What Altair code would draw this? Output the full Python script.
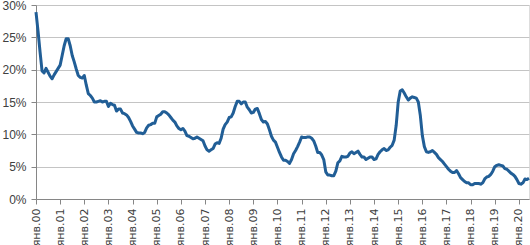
import altair as alt
import pandas as pd

# Annual CPI inflation, % (monthly, Jan 2000 - Jun 2020)
y2000 = [28.9, 26.0, 22.8, 19.8, 19.5, 20.2, 19.6, 19.0, 18.6, 19.2, 19.7, 20.2]
y2001 = [20.7, 22.2, 23.7, 24.8, 24.8, 23.7, 22.2, 21.2, 20.1, 19.1, 18.8, 18.7]
y2002 = [19.1, 17.6, 16.3, 16.0, 15.6, 15.0, 15.0, 15.1, 15.2, 15.0, 15.1, 15.1]
y2003 = [14.3, 14.8, 14.6, 14.5, 13.6, 13.9, 13.9, 13.3, 13.2, 13.0, 12.6, 12.0]
y2004 = [11.3, 10.8, 10.3, 10.2, 10.2, 10.1, 10.3, 11.0, 11.4, 11.5, 11.7, 11.7]
y2005 = [12.7, 12.9, 13.1, 13.5, 13.5, 13.3, 13.0, 12.6, 12.2, 11.9, 11.3, 10.9]
y2006 = [10.7, 10.9, 10.5, 9.8, 9.7, 9.5, 9.3, 9.4, 9.6, 9.4, 9.2, 9.0]
y2007 = [8.2, 7.6, 7.4, 7.6, 7.8, 8.5, 8.7, 8.6, 9.4, 10.8, 11.5, 11.9]
y2008 = [12.6, 12.7, 13.3, 14.3, 15.1, 15.1, 14.7, 15.0, 15.0, 14.2, 13.8, 13.3]
y2009 = [13.4, 13.9, 14.0, 13.2, 12.3, 11.9, 12.0, 11.6, 10.7, 9.7, 9.1, 8.8]
y2010 = [8.0, 7.2, 6.5, 6.0, 6.0, 5.8, 5.5, 6.1, 7.0, 7.5, 8.1, 8.8]
y2011 = [9.6, 9.5, 9.5, 9.6, 9.6, 9.4, 9.0, 8.2, 7.2, 7.2, 6.8, 6.1]
y2012 = [4.2, 3.7, 3.7, 3.6, 3.6, 4.3, 5.6, 5.9, 6.6, 6.5, 6.5, 6.6]
y2013 = [7.1, 7.3, 7.0, 7.2, 7.4, 6.9, 6.5, 6.5, 6.1, 6.3, 6.5, 6.5]
y2014 = [6.1, 6.2, 6.9, 7.3, 7.6, 7.8, 7.5, 7.6, 8.0, 8.3, 9.1, 11.4]
y2015 = [15.0, 16.7, 16.9, 16.4, 15.8, 15.3, 15.6, 15.8, 15.7, 15.6, 15.0, 12.9]
y2016 = [9.8, 8.1, 7.3, 7.2, 7.3, 7.5, 7.2, 6.9, 6.4, 6.1, 5.8, 5.4]
y2017 = [5.0, 4.6, 4.3, 4.1, 4.1, 4.4, 3.9, 3.3, 3.0, 2.7, 2.5, 2.5]
y2018 = [2.2, 2.2, 2.4, 2.4, 2.4, 2.3, 2.5, 3.1, 3.4, 3.5, 3.8, 4.3]
y2019 = [5.0, 5.2, 5.3, 5.2, 5.1, 4.7, 4.6, 4.3, 4.0, 3.8, 3.5, 3.0]
y2020 = [2.4, 2.3, 2.5, 3.1, 3.0, 3.2]

years = [y2000, y2001, y2002, y2003, y2004, y2005, y2006, y2007, y2008, y2009,
         y2010, y2011, y2012, y2013, y2014, y2015, y2016, y2017, y2018, y2019, y2020]

x_ticks = list(range(0, 241, 12))   # every January
y_ticks = [0, 5, 10, 15, 20, 25, 30]

values = [v for yr in years for v in yr]
df = pd.DataFrame({"m": list(range(len(values))), "v": values})

chart = (
    alt.Chart(df)
    .mark_line(color="#215e96", strokeWidth=3, strokeJoin="round", interpolate="linear")
    .encode(
        x=alt.X(
            "m:Q",
            scale=alt.Scale(domain=[0, len(values) - 1], nice=False, zero=False),
            axis=alt.Axis(
                values=x_ticks,
                labelExpr="'янв.' + (datum.value < 120 ? '0' : '') + floor(datum.value / 12)",
                labelAngle=270,
                labelAlign="right",
                labelBaseline="middle",
                labelFlush=False,
                labelOverlap=False,
                labelPadding=4,
                labelFont="DejaVu Sans",
                labelFontSize=11,
                labelColor="#404040",
                grid=False,
                tickSize=5,
                tickColor="#868686",
                domainColor="#868686",
                title=None,
            ),
        ),
        y=alt.Y(
            "v:Q",
            scale=alt.Scale(domain=[0, 30], nice=False),
            axis=alt.Axis(
                values=y_ticks,
                labelExpr="datum.value + '%'",
                labelFont="Liberation Sans",
                labelFontSize=12,
                labelColor="#404040",
                labelPadding=5,
                tickSize=5,
                tickColor="#868686",
                domainColor="#868686",
                gridColor="#c4c4c4",
                gridWidth=1,
                title=None,
            ),
        ),
    )
    .properties(
        width=493,
        height=194,
        autosize=alt.AutoSizeParams(type="none"),
        padding={"left": 36, "top": 5, "right": 1, "bottom": 46},
    )
    .configure_view(stroke="#c8c8c8")
    .configure(background="white")
)

chart.save("out.html", embed_options={"renderer": "svg", "actions": False})
